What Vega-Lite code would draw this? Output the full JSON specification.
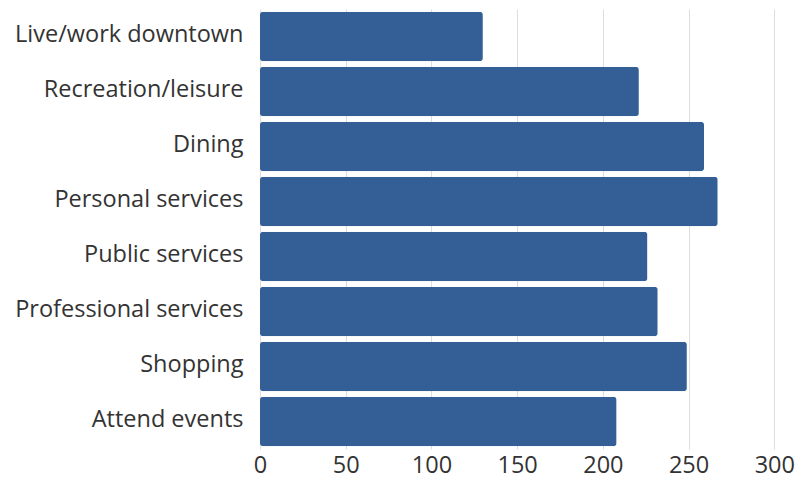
{
  "$schema": "https://vega.github.io/schema/vega-lite/v6.json",
  "width": 540,
  "height": 440,
  "autosize": {"type": "none"},
  "padding": {"left": 260, "top": 9, "right": 1, "bottom": 35},
  "background": "white",
  "config": {"view": {"stroke": null}},
  "data": {
    "values": [
      {"category": "Live/work downtown", "value": 130},
      {"category": "Recreation/leisure", "value": 221},
      {"category": "Dining", "value": 259},
      {"category": "Personal services", "value": 267},
      {"category": "Public services", "value": 226},
      {"category": "Professional services", "value": 232},
      {"category": "Shopping", "value": 249},
      {"category": "Attend events", "value": 208}
    ]
  },
  "mark": {"type": "bar", "color": "#335e96", "cornerRadius": 3},
  "encoding": {
    "y": {
      "field": "category",
      "type": "nominal",
      "sort": null,
      "scale": {"paddingInner": 0.1, "paddingOuter": 0.05},
      "axis": {
        "title": null,
        "domain": false,
        "ticks": false,
        "labelPadding": 17,
        "labelFont": "Open Sans",
        "labelFontSize": 23.5,
        "labelColor": "#333333",
        "labelLimit": 300,
        "labelOffset": -2
      }
    },
    "x": {
      "field": "value",
      "type": "quantitative",
      "scale": {"domain": [0, 315], "nice": false},
      "axis": {
        "title": null,
        "values": [0, 50, 100, 150, 200, 250, 300],
        "domain": false,
        "ticks": false,
        "grid": true,
        "gridColor": "#dddddd",
        "labelPadding": 4,
        "labelFont": "Open Sans",
        "labelFontSize": 23.5,
        "labelColor": "#333333",
        "labelFlush": false
      }
    }
  }
}
